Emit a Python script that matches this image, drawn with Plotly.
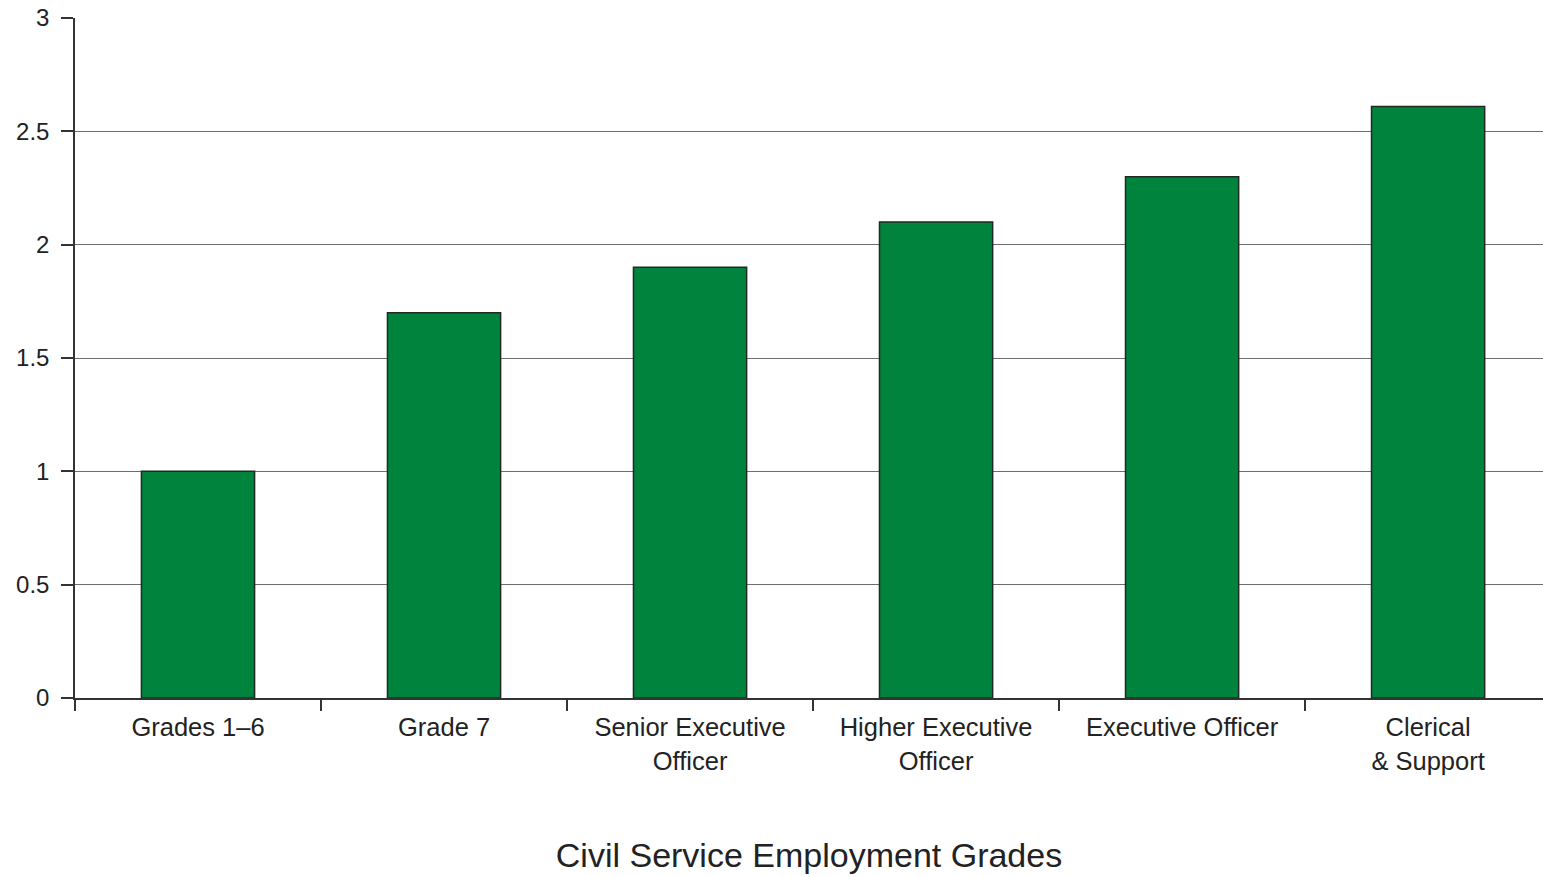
import plotly.graph_objects as go

categories = ["Grades 1\u20136", "Grade 7", "Senior Executive<br>Officer",
              "Higher Executive<br>Officer", "Executive Officer", "Clerical<br>& Support"]
values = [1.0, 1.7, 1.9, 2.1, 2.3, 2.61]
y_ticks = [0, 0.5, 1, 1.5, 2, 2.5, 3]
y_tick_labels = ["0", "0.5", "1", "1.5", "2", "2.5", "3"]

FONT = "Liberation Sans, Arial, Helvetica, sans-serif"

fig = go.Figure(go.Bar(
    x=categories, y=values,
    marker=dict(color="#00843d", line=dict(color="#1f2a22", width=1.5)),
    width=0.46,
))

fig.update_layout(
    width=1543, height=877,
    margin=dict(l=75, r=0, t=18, b=179),
    paper_bgcolor="white", plot_bgcolor="white",
    showlegend=False,
    font=dict(family=FONT, size=24, color="#222222"),
)

fig.update_xaxes(
    range=[-0.5, 5.467],
    showline=True, linecolor="#333333", linewidth=1.5,
    ticks="outside", tickson="boundaries", ticklen=11, tickcolor="#333333", tickwidth=1.5,
    showgrid=False,
    ticklabelstandoff=6,
    tickfont=dict(family=FONT, size=25.5, color="#222222"),
    title=dict(text="Civil Service Employment Grades",
               font=dict(family=FONT, size=34, color="#222222"), standoff=70),
)

fig.update_yaxes(
    range=[0, 3],
    tickvals=y_ticks, ticktext=y_tick_labels,
    showline=True, linecolor="#333333", linewidth=1.5,
    ticks="outside", ticklen=12, tickcolor="#333333", tickwidth=1.5,
    showgrid=True, gridcolor="#6e6e6e", gridwidth=1.2,
    zeroline=False,
    ticklabelstandoff=7,
    tickfont=dict(family=FONT, size=24, color="#222222"),
)

fig.write_html("out.html")
